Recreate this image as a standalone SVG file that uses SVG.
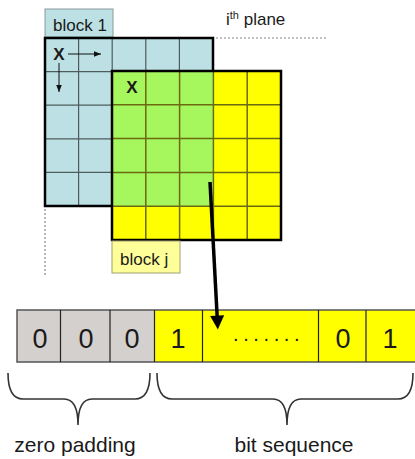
<svg xmlns="http://www.w3.org/2000/svg" width="415" height="459" viewBox="0 0 415 459">
<style>
  text { font-family: "Liberation Sans", Arial, sans-serif; fill: #1a1a1a; }
  .lbl { font-size: 17px; }
  .x { font-size: 17px; font-weight: bold; text-anchor: middle; }
  .bgrid { stroke: #4e5c5d; stroke-width: 1.2; fill: none; }
  .ygrid { stroke: #6a6a10; stroke-width: 1.5; fill: none; }
  .border { stroke: #000; stroke-width: 2.5; fill: none; }
  .dash { stroke: #888; stroke-width: 1.2; stroke-dasharray: 2 2; fill: none; }
  .cell { stroke: #222; stroke-width: 1.2; }
  .digit { font-size: 27px; text-anchor: middle; }
  .brace { stroke: #333; stroke-width: 1.6; fill: none; }
  .big { font-size: 21px; text-anchor: middle; }
</style>
<defs>
  <marker id="small" viewBox="0 0 10 10" refX="10" refY="5" markerWidth="7" markerHeight="7" markerUnits="userSpaceOnUse" orient="auto">
    <path d="M0,1 L10,5 L0,9 Z" fill="#111"/>
  </marker>
  <marker id="bighead" viewBox="0 0 10 10" refX="1" refY="5" markerWidth="15" markerHeight="14" markerUnits="userSpaceOnUse" orient="auto">
    <path d="M0,0 L10,5 L0,10 Z" fill="#000"/>
  </marker>
</defs>
<rect width="415" height="459" fill="#ffffff"/>

<g id="plane-label">
  <text class="lbl" x="226" y="25">i<tspan font-size="11" dy="-6">th</tspan><tspan dy="6"> plane</tspan></text>
  <line class="dash" x1="216" y1="38" x2="326" y2="38"/>
  <line class="dash" x1="45" y1="209" x2="45" y2="275"/>
</g>

<g id="block1">
  <rect x="45" y="9" width="68" height="28" fill="#bce0e3" stroke="#8a9a9b" stroke-width="1"/>
  <text class="lbl" x="53" y="31">block 1</text>
  <rect x="45" y="38" width="168" height="168" fill="#bce0e3"/>
  <path class="bgrid" d="M78.6,38V206 M112.2,38V206 M145.8,38V206 M179.4,38V206 M45,71.6H213 M45,105.2H213 M45,138.8H213 M45,172.4H213"/>
  <rect class="border" x="45" y="38" width="168" height="168"/>
  <text class="x" x="59" y="60">X</text>
</g>

<g id="blockj">
  <rect x="112" y="71" width="169" height="169" fill="#ffff00"/>
  <rect x="112" y="71" width="101.4" height="135.2" fill="#a6f65e"/>
  <path class="ygrid" d="M145.8,71V240 M179.6,71V240 M213.4,71V240 M247.2,71V240 M112,104.8H281 M112,138.6H281 M112,172.4H281 M112,206.2H281"/>
  <rect class="border" x="112" y="71" width="169" height="169"/>
  <text class="x" x="132" y="93">X</text>
  <rect x="112" y="241" width="68" height="32" fill="#ffff99" stroke="#a0a070" stroke-width="1"/>
  <text class="lbl" x="120" y="265">block j</text>
</g>

<g id="bitstream">
  <rect x="17" y="310" width="137" height="52" fill="#d4d0ce"/>
  <rect x="154" y="310" width="262" height="52" fill="#ffff00"/>
  <rect x="17" y="310" width="400" height="52" fill="none" stroke="#555" stroke-width="1.5"/>
  <path class="cell" d="M60.5,310V362 M110,310V362 M154.5,310V362 M202.5,310V362 M318.5,310V362 M366,310V362"/>
  <text class="digit" x="40" y="348">0</text>
  <text class="digit" x="86" y="348">0</text>
  <text class="digit" x="132" y="348">0</text>
  <text class="digit" x="178" y="348">1</text>
  <text x="233" y="341" font-size="20" letter-spacing="4.6">.......</text>
  <text class="digit" x="343" y="348">0</text>
  <text class="digit" x="390" y="348">1</text>
</g>

<g id="connectors">
  <line x1="68" y1="54" x2="101" y2="54" stroke="#111" stroke-width="1" marker-end="url(#small)"/>
  <line x1="59" y1="63" x2="59" y2="92" stroke="#111" stroke-width="1" marker-end="url(#small)"/>
  <line x1="210" y1="182" x2="217.2" y2="317" stroke="#000" stroke-width="3.5" marker-end="url(#bighead)"/>
</g>

<g id="braces">
  <path class="brace" d="M8,373 Q8,399 23,399 L64,399 Q78,399 78,425 Q78,399 92,399 L135,399 Q150,399 150,373"/>
  <path class="brace" d="M157,373 Q157,399 172,399 L273,399 Q287,399 287,425 Q287,399 301,399 L398,399 Q413,399 413,373"/>
  <text class="big" x="75" y="452">zero padding</text>
  <text class="big" x="294" y="452">bit sequence</text>
</g>
</svg>
